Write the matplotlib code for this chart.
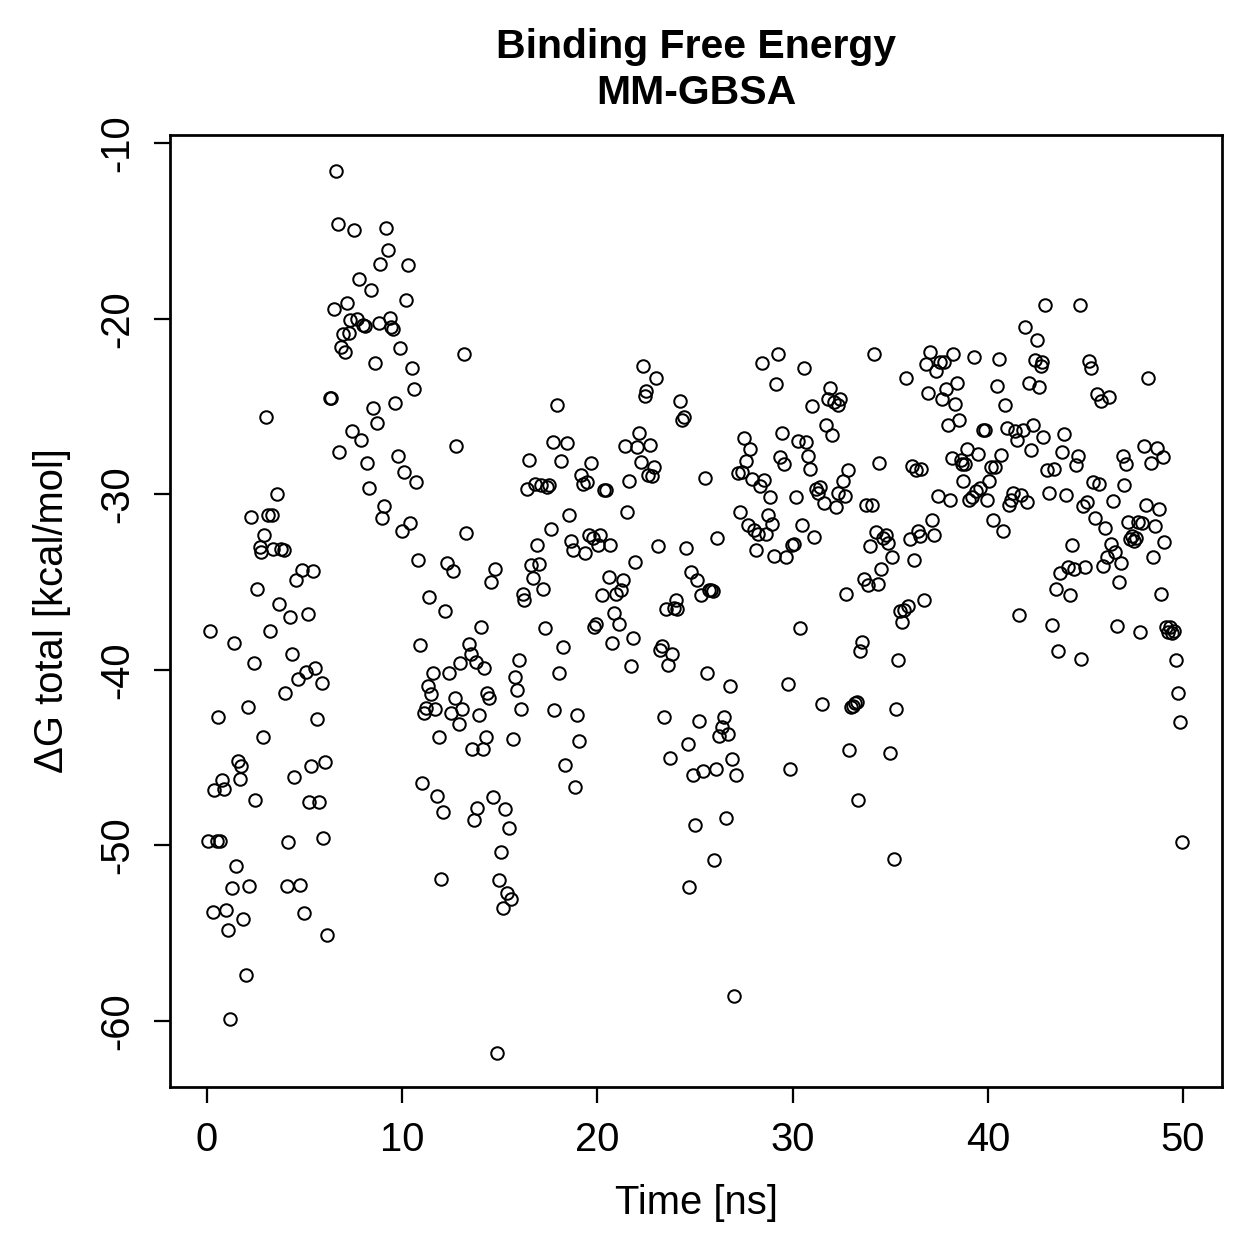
import matplotlib
matplotlib.use("Agg")
import matplotlib.pyplot as plt

plt.rcParams['font.family'] = ['Liberation Sans', 'DejaVu Sans']
plt.rcParams['axes.unicode_minus'] = False

# Time [ns] and dG total [kcal/mol]
time_ns = [
    0.15, 0.05, 0.3, 0.35, 0.5, 0.55, 0.65, 0.75, 0.85, 0.95, 1.05, 1.2, 1.3, 1.4, 1.5,
    1.6, 1.7, 1.75, 1.85, 2.0, 2.1, 2.15, 2.25, 2.4, 2.45, 2.55, 2.7, 2.75, 2.85, 3.0,
    2.9, 3.1, 3.25, 3.35, 3.4, 3.6, 3.7, 3.8, 3.95, 4.0, 4.1, 4.15, 4.25, 4.35, 4.45,
    4.55, 4.65, 4.75, 4.85, 4.95, 5.05, 5.15, 5.25, 5.35, 5.45, 5.55, 5.65, 5.75, 5.9,
    5.95, 6.05, 6.15, 6.3, 6.35, 6.5, 6.6, 6.7, 6.75, 6.85, 6.95, 7.05, 7.15, 7.25, 7.35,
    7.45, 7.55, 7.7, 7.8, 7.9, 8.0, 8.1, 8.2, 8.3, 8.4, 8.5, 8.6, 8.7, 8.8, 8.85, 8.95,
    9.05, 9.15, 9.25, 9.35, 9.45, 9.55, 9.65, 9.8, 9.9, 10.0, 10.1, 10.2, 10.3, 10.4,
    10.5, 10.6, 10.7, 10.8, 10.9, 11.0, 11.1, 11.2, 11.3, 11.35, 11.5, 11.6, 11.7, 11.8,
    11.9, 12.0, 12.1, 12.2, 12.3, 12.4, 12.5, 12.6, 12.7, 12.75, 12.9, 12.95, 13.05,
    13.15, 13.25, 13.4, 13.5, 13.6, 13.7, 13.8, 13.85, 13.95, 14.05, 14.15, 14.2, 14.3,
    14.35, 14.45, 14.55, 14.65, 14.75, 14.85, 14.95, 15.05, 15.15, 15.25, 15.35, 15.45,
    15.55, 15.7, 15.8, 15.9, 16.0, 16.1, 16.2, 16.25, 16.4, 16.5, 16.6, 16.7, 16.8, 16.9,
    17.0, 17.1, 17.2, 17.3, 17.4, 17.5, 17.6, 17.7, 17.8, 17.95, 18.05, 18.15, 18.25,
    18.35, 18.45, 18.55, 18.65, 18.75, 18.85, 18.95, 19.05, 19.15, 19.25, 19.35, 19.45,
    19.55, 19.65, 19.75, 19.85, 19.95, 20.05, 20.15, 20.25, 20.35, 20.45, 20.6, 20.65,
    20.75, 20.85, 20.95, 21.1, 21.2, 21.3, 21.4, 21.5, 21.6, 21.7, 21.8, 21.9, 22.05,
    22.15, 22.25, 22.35, 22.45, 22.5, 22.6, 22.7, 22.8, 22.9, 23.0, 23.1, 23.2, 23.3,
    23.4, 23.5, 23.6, 23.7, 23.8, 23.9, 24.0, 24.1, 24.25, 24.35, 24.45, 24.55, 24.65,
    24.7, 24.8, 24.9, 25.0, 25.1, 25.2, 25.3, 25.4, 25.5, 25.6, 25.7, 25.8, 25.9, 25.95,
    26.05, 26.15, 26.25, 26.4, 26.5, 26.6, 26.7, 26.8, 26.9, 27.0, 27.1, 27.2, 27.3,
    27.4, 27.5, 27.6, 27.7, 27.8, 27.9, 28.0, 28.1, 28.25, 28.35, 28.45, 28.55, 28.65,
    28.75, 28.85, 28.95, 29.05, 29.15, 29.25, 29.35, 29.45, 29.55, 29.65, 29.75, 29.85,
    29.95, 30.05, 30.15, 30.3, 30.4, 30.5, 30.6, 30.7, 30.8, 30.9, 31.0, 31.1, 31.2,
    31.3, 31.4, 31.5, 31.6, 31.7, 31.8, 31.9, 32.0, 32.1, 32.2, 32.3, 32.35, 32.45,
    32.6, 32.7, 32.75, 32.85, 32.9, 33.0, 33.1, 33.2, 33.3, 33.35, 33.45, 33.55, 33.65,
    33.75, 33.85, 33.95, 34.05, 34.15, 34.25, 34.35, 34.45, 34.55, 34.65, 34.8, 34.9,
    35.0, 35.1, 35.2, 35.3, 35.4, 35.5, 35.6, 35.7, 35.8, 35.9, 36.0, 36.1, 36.2, 36.3,
    36.4, 36.5, 36.6, 36.75, 36.85, 36.95, 37.05, 37.15, 37.25, 37.35, 37.45, 37.55,
    37.65, 37.75, 37.85, 37.95, 38.05, 38.15, 38.2, 38.3, 38.4, 38.5, 38.6, 38.7, 38.75,
    38.85, 38.95, 39.05, 39.2, 39.3, 39.4, 39.5, 39.6, 39.75, 39.85, 39.95, 40.05, 40.15,
    40.25, 40.35, 40.45, 40.55, 40.7, 40.8, 40.9, 41.0, 41.1, 41.2, 41.3, 41.4, 41.5,
    41.6, 41.7, 41.8, 41.9, 42.0, 42.1, 42.2, 42.3, 42.4, 42.5, 42.6, 42.7, 42.8, 42.85,
    42.95, 43.05, 43.15, 43.3, 43.4, 43.5, 43.6, 43.7, 43.8, 43.9, 44.0, 44.1, 44.2,
    44.3, 44.4, 44.5, 44.6, 44.7, 44.75, 44.9, 45.0, 45.1, 45.2, 45.3, 45.4, 45.5, 45.6,
    45.7, 45.8, 45.9, 46.0, 46.1, 46.2, 46.3, 46.4, 46.5, 46.6, 46.7, 46.8, 46.9, 47.0,
    47.1, 47.2, 47.3, 47.4, 47.5, 47.6, 47.7, 47.8, 47.9, 48.0, 48.1, 48.2, 48.35,
    48.45, 48.55, 48.65, 48.75, 48.85, 48.95, 49.05, 49.15, 49.25, 49.35, 49.45, 49.55,
    49.65, 49.75, 49.85, 49.95,
]
dg_total = [
    -37.8, -49.75, -53.8, -46.85, -49.75, -42.7, -49.75, -46.3, -46.8, -53.7, -54.8,
    -59.9, -52.4, -38.5, -51.2, -45.2, -46.2, -45.5, -54.2, -57.4, -42.1, -52.3, -31.3,
    -39.6, -47.4, -35.4, -33.0, -33.3, -43.8, -25.6, -32.3, -31.2, -37.8, -31.2, -33.1,
    -30.0, -36.25, -33.1, -33.2, -41.3, -52.3, -49.8, -37.0, -39.1, -46.1, -34.9, -40.55,
    -52.25, -34.3, -53.85, -40.1, -36.8, -47.5, -45.5, -34.4, -39.9, -42.8, -47.5,
    -40.75, -49.6, -45.25, -55.1, -24.5, -24.5, -19.45, -11.6, -14.6, -27.6, -21.6,
    -20.9, -21.9, -19.1, -20.8, -20.1, -26.4, -14.95, -20.0, -17.75, -26.9, -20.35,
    -20.4, -28.2, -29.65, -18.35, -25.1, -22.5, -25.95, -20.25, -16.9, -31.35, -30.65,
    -14.85, -16.1, -19.95, -20.5, -20.6, -24.8, -27.8, -21.65, -32.1, -28.75, -18.95,
    -16.95, -31.65, -22.8, -24.0, -29.3, -33.75, -38.6, -46.45, -42.45, -42.2, -40.9,
    -35.85, -41.4, -40.2, -42.25, -47.2, -43.8, -51.9, -48.1, -36.65, -33.9, -40.2,
    -42.45, -34.4, -41.6, -27.25, -43.1, -39.6, -42.25, -22.0, -32.2, -38.55, -39.1,
    -44.5, -48.55, -39.55, -47.85, -42.55, -37.55, -44.5, -39.9, -43.8, -41.3, -41.6,
    -35.0, -47.25, -34.25, -61.8, -51.95, -50.4, -53.55, -47.9, -52.7, -49.0, -53.05,
    -43.95, -40.4, -41.15, -39.45, -42.25, -35.7, -36.0, -29.7, -28.05, -34.05, -34.75,
    -29.4, -32.9, -34.0, -29.45, -35.4, -37.6, -29.6, -29.5, -32.0, -27.0, -42.3, -24.9,
    -40.2, -28.1, -38.7, -45.4, -27.1, -31.2, -32.65, -33.2, -46.7, -42.55, -44.05,
    -28.9, -29.4, -33.35, -29.3, -32.3, -28.2, -32.5, -37.55, -37.4, -32.9, -32.3,
    -35.75, -29.75, -29.75, -34.7, -32.9, -38.5, -36.75, -35.7, -37.4, -35.45, -34.9,
    -27.25, -31.0, -29.25, -39.8, -38.2, -33.85, -27.3, -26.5, -28.15, -22.7, -24.4,
    -24.1, -28.9, -27.2, -28.95, -28.45, -23.4, -32.95, -38.85, -38.65, -42.7, -36.55,
    -39.75, -45.05, -39.1, -36.5, -36.0, -36.55, -24.7, -25.75, -25.6, -33.05, -44.2,
    -52.35, -34.45, -46.0, -48.85, -34.9, -42.9, -35.75, -45.75, -29.1, -40.2, -35.45,
    -35.45, -35.5, -50.85, -45.65, -32.5, -43.75, -43.25, -42.7, -48.45, -43.65, -40.9,
    -45.1, -58.6, -46.0, -28.8, -31.0, -28.75, -26.8, -28.1, -31.75, -27.4, -29.15,
    -32.05, -33.2, -32.25, -29.55, -22.5, -29.2, -32.25, -31.2, -30.15, -31.7, -33.5,
    -23.7, -22.0, -27.9, -26.5, -28.3, -33.6, -40.8, -45.65, -32.9, -32.85, -30.15,
    -26.95, -37.6, -31.75, -22.8, -27.05, -27.85, -28.55, -25.0, -32.45, -29.7, -29.95,
    -29.6, -41.95, -30.5, -26.05, -24.6, -23.95, -26.6, -24.75, -30.75, -29.95, -24.9,
    -24.6, -29.25, -30.1, -35.7, -28.6, -44.55, -42.1, -42.05, -41.9, -41.85, -47.4,
    -38.95, -38.4, -34.85, -30.6, -35.15, -32.95, -30.6, -22.0, -32.15, -35.1, -28.2,
    -34.25, -32.5, -32.3, -32.75, -44.75, -33.6, -50.8, -42.25, -39.45, -36.65, -37.3,
    -36.6, -23.4, -36.35, -32.55, -28.4, -33.75, -28.6, -32.1, -32.4, -28.55, -36.0,
    -22.6, -24.25, -21.9, -31.45, -32.3, -23.0, -30.1, -22.45, -24.6, -22.45, -24.0,
    -26.05, -30.35, -27.95, -22.0, -24.85, -23.65, -25.8, -28.05, -28.3, -29.25, -28.3,
    -27.4, -30.35, -30.15, -22.2, -29.8, -27.7, -29.65, -26.35, -26.35, -30.35, -29.25,
    -28.45, -31.45, -28.45, -23.85, -22.3, -27.75, -32.1, -24.9, -26.25, -30.6, -30.35,
    -29.95, -26.4, -26.9, -36.9, -30.05, -26.35, -20.5, -30.45, -23.65, -27.5, -26.05,
    -22.35, -21.2, -23.9, -22.7, -22.45, -26.75, -19.2, -28.6, -29.95, -37.45, -28.55,
    -35.4, -38.95, -34.5, -27.6, -26.55, -30.05, -34.15, -35.75, -32.9, -34.25, -28.35,
    -27.85, -19.2, -39.4, -30.65, -34.15, -30.45, -22.4, -22.8, -29.3, -31.35, -24.3,
    -29.4, -24.7, -34.1, -31.95, -33.55, -24.45, -32.85, -30.4, -33.3, -37.5, -35.0,
    -33.9, -27.8, -29.5, -28.25, -31.6, -32.55, -32.4, -32.65, -32.5, -31.6, -37.85,
    -31.65, -27.25, -30.6, -23.4, -28.2, -33.55, -31.8, -27.35, -30.85, -35.7, -27.9,
    -32.7, -37.55, -37.85, -37.55, -37.9, -37.8, -39.45, -41.3, -42.95, -49.8,
]
x_ticks = [0, 10, 20, 30, 40, 50]
y_ticks = [-60, -50, -40, -30, -20, -10]

W = H = 1259
fig = plt.figure(figsize=(W / 180, H / 180), dpi=180)
ax = fig.add_axes([170 / W, 1 - 1087 / H, (1222 - 170) / W, (1087 - 135) / H])

ax.plot(time_ns, dg_total, linestyle='none', marker='o', markersize=5.0,
        markerfacecolor='none', markeredgecolor='black', markeredgewidth=0.8)

# R-style axis ranges (4% padding)
ax.set_xlim(-1.896, 51.996)
ax.set_ylim(-63.76, -9.54)
ax.set_xticks(x_ticks)
ax.set_yticks(y_ticks)
ax.tick_params(direction='out', length=6.5, width=0.9, labelsize=16, pad=7)
ax.tick_params(axis='y', labelrotation=90)
for lab in ax.get_yticklabels():
    lab.set_va('center')
for s in ax.spines.values():
    s.set_linewidth(1.1)

fig.text(696 / W, 1 - 70 / H, "Binding Free Energy\nMM-GBSA", ha='center', va='center',
         fontsize=16.4, fontweight='bold', linespacing=1.25)
fig.text(696 / W, 1 - 1203 / H, "Time [ns]", ha='center', va='center', fontsize=16)
fig.text(52 / W, 1 - 611 / H, "ΔG total [kcal/mol]", ha='center', va='center',
         rotation=90, fontsize=16)

fig.savefig("out.png", dpi=180)
